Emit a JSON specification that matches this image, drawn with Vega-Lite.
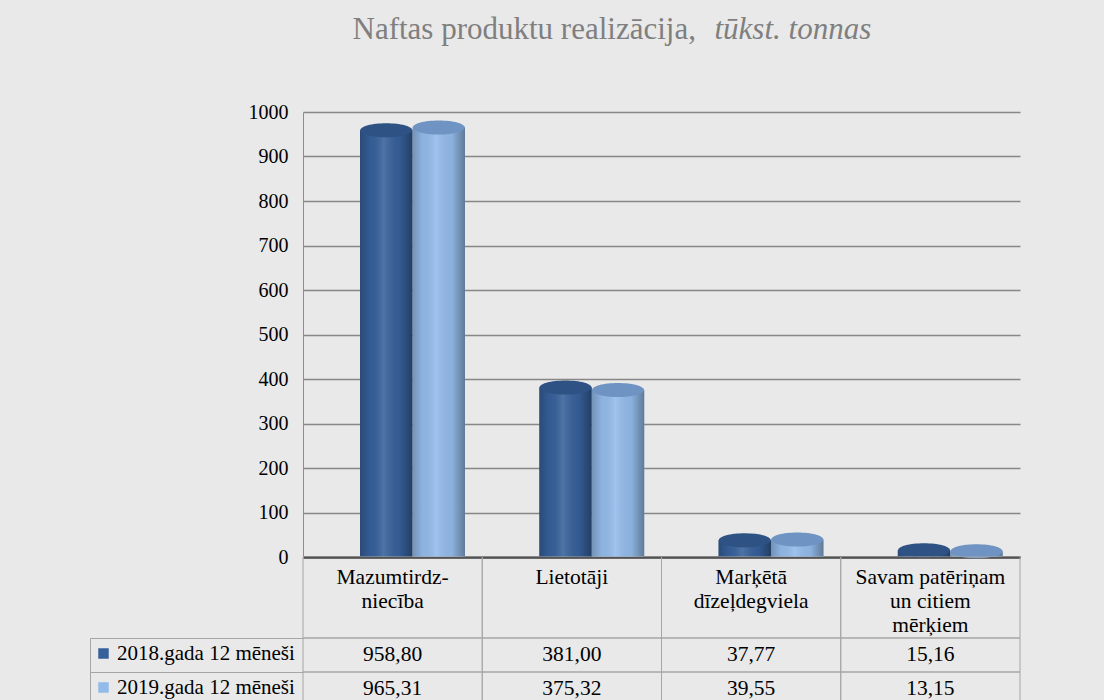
{
  "$schema": "https://vega.github.io/schema/vega-lite/v6.json",
  "autosize": "none",
  "padding": {"left": 303, "top": 112, "right": 801, "bottom": 588},
  "background": "#e9e9e9",
  "config": {
    "font": "Liberation Serif",
    "axis": {"labelFont": "Liberation Serif", "titleFont": "Liberation Serif"},
    "legend": {"labelFont": "Liberation Serif"},
    "text": {"font": "Liberation Serif"},
    "locale": {"number": {"decimal": ",", "thousands": " ", "grouping": [3], "currency": ["", ""]}},
    "view": {"stroke": null}
  },
  "datasets": {
    "dati": [
      {"kategorija": "Mazumtirdzniecība", "periods": "2018.gada 12 mēneši", "vertiba": 958.80},
      {"kategorija": "Mazumtirdzniecība", "periods": "2019.gada 12 mēneši", "vertiba": 965.31},
      {"kategorija": "Lietotāji", "periods": "2018.gada 12 mēneši", "vertiba": 381.00},
      {"kategorija": "Lietotāji", "periods": "2019.gada 12 mēneši", "vertiba": 375.32},
      {"kategorija": "Marķētā dīzeļdegviela", "periods": "2018.gada 12 mēneši", "vertiba": 37.77},
      {"kategorija": "Marķētā dīzeļdegviela", "periods": "2019.gada 12 mēneši", "vertiba": 39.55},
      {"kategorija": "Savam patēriņam un citiem mērķiem", "periods": "2018.gada 12 mēneši", "vertiba": 15.16},
      {"kategorija": "Savam patēriņam un citiem mērķiem", "periods": "2019.gada 12 mēneši", "vertiba": 13.15}
    ],
    "galvene": [
      {"kategorija": "Mazumtirdzniecība", "nosaukums": "Mazumtirdz-\nniecība"},
      {"kategorija": "Lietotāji", "nosaukums": "Lietotāji"},
      {"kategorija": "Marķētā dīzeļdegviela", "nosaukums": "Marķētā\ndīzeļdegviela"},
      {"kategorija": "Savam patēriņam un citiem mērķiem", "nosaukums": "Savam patēriņam\nun citiem\nmērķiem"}
    ]
  },
  "spacing": 0,
  "bounds": "flush",
  "resolve": {"scale": {"x": "independent", "y": "independent", "color": "shared"}},
  "vconcat": [
    {
      "width": 717,
      "height": 445,
      "data": {"name": "dati"},
      "encoding": {
        "x": {
          "field": "kategorija", "type": "nominal", "sort": null,
          "scale": {"paddingInner": 0, "paddingOuter": 0},
          "axis": {
            "labels": false, "ticks": false, "domainColor": "#000000", "domainWidth": 2,
            "title": "Naftas produktu realizācija,", "titleFontSize": 31,
            "titleFontWeight": "normal", "titleColor": "#7f7f7f", "titleX": 49, "titleY": -519,
            "titleAlign": "left", "titleBaseline": "alphabetic", "titleAngle": 0
          }
        },
        "xOffset": {"field": "periods", "type": "nominal", "sort": null,
                    "scale": {"range": [57, 162], "paddingInner": 0, "paddingOuter": 0}},
        "y": {
          "field": "vertiba", "type": "quantitative",
          "scale": {"domain": [0, 1000], "nice": false},
          "axis": {
            "values": [0, 100, 200, 300, 400, 500, 600, 700, 800, 900, 1000],
            "format": "d", "labelFontSize": 20, "labelColor": "#000000",
            "labelPadding": 15, "ticks": false, "tickSize": 0, "domainColor": "#8c8c8c",
            "gridColor": "#878787", "gridWidth": 1.5,
            "title": "tūkst. tonnas", "titleFontStyle": "italic",
            "titleFontSize": 31, "titleFontWeight": "normal", "titleColor": "#7f7f7f",
            "titleAngle": 0, "titleX": 411, "titleY": -74, "titleAlign": "left", "titleBaseline": "alphabetic"
          }
        }
      },
      "layer": [
        {
          "mark": {"type": "bar"},
          "encoding": {
            "color": {
              "field": "periods", "type": "nominal", "sort": null,
              "scale": {"range": ["#36609a", "#93bbea"]},
              "legend": {
                "orient": "none", "legendX": -210, "legendY": 531, "title": null,
                "symbolType": "square", "symbolSize": 110, "symbolStrokeWidth": 0,
                "labelFontSize": 21, "labelColor": "#000000", "labelLimit": 400,
                "rowPadding": 12, "padding": 0, "labelOffset": 3
              }
            }
          }
        },
        {
          "mark": {
            "type": "bar",
            "fill": {
              "gradient": "linear", "x1": 0, "y1": 0, "x2": 1, "y2": 0,
              "stops": [
                {"offset": 0, "color": "rgba(0,0,0,0.22)"},
                {"offset": 0.2, "color": "rgba(0,0,0,0.04)"},
                {"offset": 0.45, "color": "rgba(255,255,255,0.12)"},
                {"offset": 0.75, "color": "rgba(0,0,0,0.05)"},
                {"offset": 1, "color": "rgba(0,0,0,0.35)"}
              ]
            }
          }
        },
        {
          "mark": {
            "type": "point", "filled": true, "opacity": 1, "size": 2704,
            "shape": "M -1 0 A 1 0.27 0 1 0 1 0 A 1 0.27 0 1 0 -1 0 Z"
          },
          "encoding": {
            "fill": {
              "condition": {"test": "datum.periods === '2018.gada 12 mēneši'", "value": "#2d5283"},
              "value": "#6f93c2"
            }
          }
        }
      ]
    },
    {
      "width": 717,
      "height": 81,
      "data": {"name": "galvene"},
      "encoding": {
        "x": {"field": "kategorija", "type": "nominal", "sort": null,
              "scale": {"paddingInner": 0, "paddingOuter": 0}, "axis": null}
      },
      "layer": [
        {"mark": {"type": "rect", "fillOpacity": 0, "stroke": "#a6a6a6", "strokeWidth": 1}},
        {
          "mark": {"type": "text", "lineBreak": "\n", "fontSize": 21.5, "baseline": "top", "dy": -31,
                   "lineHeight": 24, "color": "#000000"},
          "encoding": {"text": {"field": "nosaukums"}}
        }
      ]
    },
    {
      "width": 717,
      "height": 68,
      "data": {"name": "dati"},
      "encoding": {
        "x": {"field": "kategorija", "type": "nominal", "sort": null,
              "scale": {"paddingInner": 0, "paddingOuter": 0}, "axis": null},
        "y": {"field": "periods", "type": "nominal", "sort": null,
              "scale": {"paddingInner": 0, "paddingOuter": 0},
              "axis": {"labels": false, "title": null, "domain": true, "domainColor": "#a6a6a6",
                       "offset": 213, "ticks": true, "tickBand": "extent", "tickSize": -213,
                       "tickColor": "#a6a6a6", "grid": false}}
      },
      "layer": [
        {"mark": {"type": "rect", "fillOpacity": 0, "stroke": "#a6a6a6", "strokeWidth": 1}},
        {
          "mark": {"type": "text", "fontSize": 21.5, "color": "#000000"},
          "encoding": {"text": {"field": "vertiba", "type": "quantitative", "format": ".2f"}}
        }
      ]
    }
  ]
}
